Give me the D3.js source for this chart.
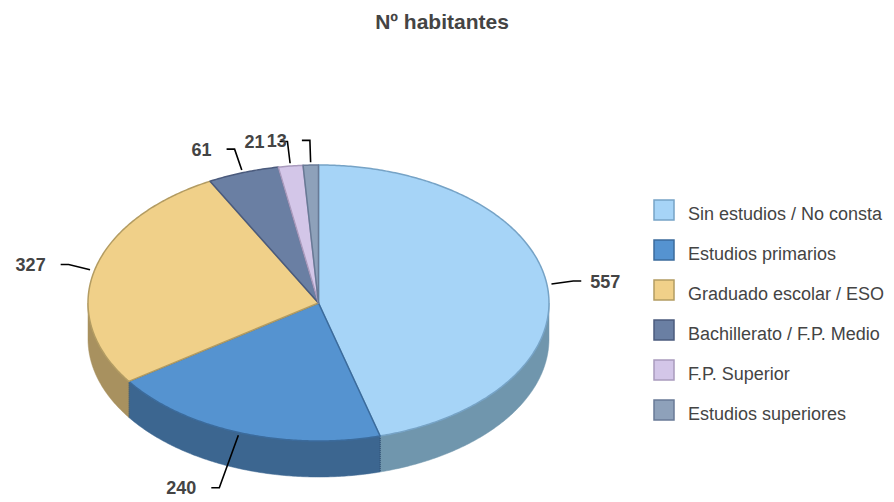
<!DOCTYPE html>
<html><head><meta charset="utf-8">
<script src="https://cdn.jsdelivr.net/npm/d3@7"></script>
<style>body{margin:0;background:#fff;} svg{display:block;font-family:"Liberation Sans",Arial,sans-serif;}</style>
</head><body><svg id="c" width="894" height="502"></svg>
<script>
const categories = ["Sin estudios / No consta","Estudios primarios","Graduado escolar / ESO","Bachillerato / F.P. Medio","F.P. Superior","Estudios superiores"];
const values = [557,240,327,61,21,13];
const title = "Nº habitantes";
const topColors = ["#a6d4f7","#5593d0","#f0d089","#6a7fa3","#d3c6e8","#8ea1ba"];
const strokeColors = ["#76a3c6","#3b6b9c","#b39c62","#4b5b7d","#a99bbd","#687a96"];
const sideColors = ["#7096ad","#3c6690","#a8915f","#4b5b78","#9a90ab","#66778f"];

const svg = d3.select("#c");
const W = 894;
const cx = 318.5, cy = 303, rx = 230.5, ry = 138, depth = 36;

svg.append("text").attr("x", 442).attr("y", 29).attr("text-anchor","middle")
  .attr("font-size", 21).attr("font-weight","bold").attr("fill","#444").text(title);

const pie = d3.pie().sort(null).value(d => d)(values);
const P = (a, k=1, dy=0) => [cx + rx*k*Math.sin(a), cy - ry*k*Math.cos(a) + dy];
function arcPts(a0, a1, k=1, dy=0){
  const n = Math.max(2, Math.ceil((a1-a0)/0.01));
  return d3.range(n+1).map(i => P(a0 + (a1-a0)*i/n, k, dy));
}
const line = d3.line();

// side walls
const gWalls = svg.append("g");
pie.forEach((d,i) => {
  const s = Math.max(d.startAngle, Math.PI/2), e = Math.min(d.endAngle, 3*Math.PI/2);
  if (s >= e) return;
  const pts = arcPts(s, e).concat(arcPts(s, e, 1, depth).reverse());
  gWalls.append("path").attr("d", line(pts) + "Z").attr("fill", sideColors[i]).attr("stroke", sideColors[i]).attr("stroke-width", 0.5);
  [s, e].forEach(a => {
    if (a <= Math.PI/2 + 1e-6 || a >= 3*Math.PI/2 - 1e-6) return;
    const p = P(a);
    gWalls.append("line").attr("x1", p[0]).attr("y1", p[1]).attr("x2", p[0]).attr("y2", p[1]+depth)
      .attr("stroke", "#2e4a66").attr("stroke-width", 1).attr("stroke-dasharray","1,1").attr("opacity",0.7);
  });
});

// top faces
const gTop = svg.append("g");
pie.forEach((d,i) => {
  const pts = [[cx,cy]].concat(arcPts(d.startAngle, d.endAngle));
  gTop.append("path").attr("d", line(pts) + "Z").attr("fill", topColors[i])
    .attr("stroke", strokeColors[i]).attr("stroke-width", 1.5).attr("stroke-linejoin","round");
});

// labels
const gLab = svg.append("g");
pie.forEach((d,i) => {
  const m = (d.startAngle + d.endAngle)/2;
  const st = P(m, 1.02);
  const len = 22 + depth*Math.max(0, -Math.cos(m));
  const el = [st[0] + len*Math.sin(m), st[1] - len*Math.cos(m)];
  const side = Math.sin(m) >= 0 ? 1 : -1;
  const en = [el[0] + side*8, el[1]];
  gLab.append("path").attr("d", line([st, el, en])).attr("fill","none").attr("stroke","#000").attr("stroke-width",1.6);
  gLab.append("text").attr("x", en[0] + (side > 0 ? 9 : -15)).attr("y", en[1]).attr("dy","0.36em")
    .attr("text-anchor", side > 0 ? "start" : "end").attr("font-size",18).attr("font-weight","bold")
    .attr("fill","#444").text(d.data);
});

// legend
const gLeg = svg.append("g");
categories.forEach((c,i) => {
  const y = 200 + i*40;
  gLeg.append("rect").attr("x", 654).attr("y", y).attr("width", 20).attr("height", 20)
    .attr("fill", topColors[i]).attr("stroke", strokeColors[i]).attr("stroke-width", 1.5);
  gLeg.append("text").attr("x", 688).attr("y", y + 20).attr("font-size", 18).attr("fill","#444").text(c);
});
</script></body></html>
